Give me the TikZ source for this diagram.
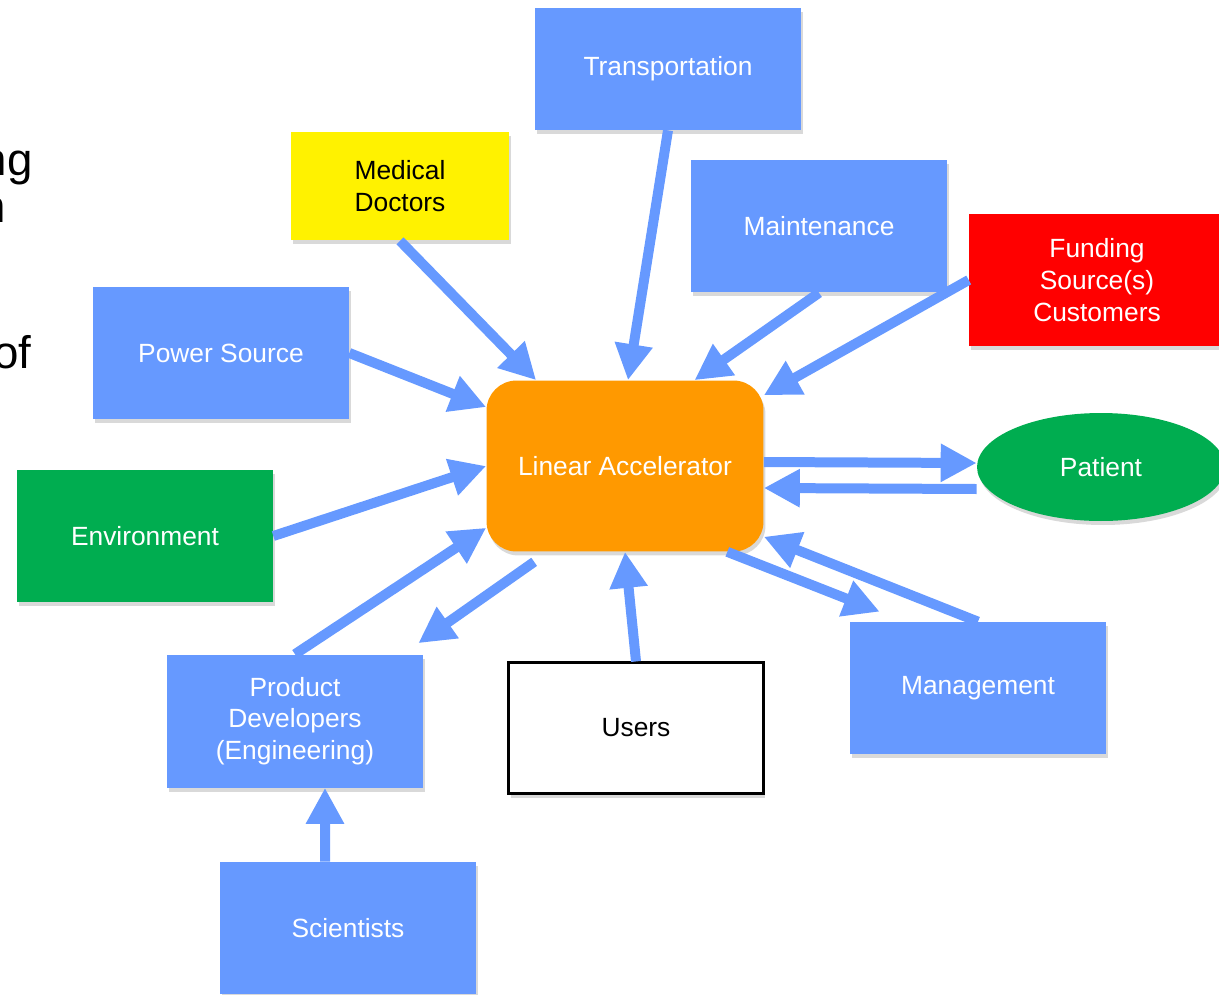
\documentclass[tikz,border=0pt]{standalone}
\usepackage{fontspec}
\setmainfont{Liberation Sans}
\usepackage{tikz}
\usetikzlibrary{arrows.meta}
\usetikzlibrary{shadows}
\usetikzlibrary{shapes.geometric}
\definecolor{boxblue}{RGB}{102,153,255}
\definecolor{linacorange}{RGB}{255,153,0}
\definecolor{envgreen}{RGB}{0,173,80}
\tikzset{unit/.style = {rectangle, fill = boxblue, text = white, align = center,
                        minimum width = 5.12cm, minimum height = 2.64cm, inner sep = 0pt,
                        font = \fontsize{15}{18}\selectfont,
                        drop shadow = {shadow xshift = 0.04cm, shadow yshift = -0.08cm,
                                       opacity = 0.3}},
         flow/.style = {draw = boxblue, line width = 0.2cm,
                        -{Triangle[length = 0.72cm, width = 0.72cm]}},
         cutoff/.style = {anchor = base east, inner sep = 0pt,
                          font = \fontsize{26}{27}\selectfont}}

\begin{document}
\begin{tikzpicture}[x = 0.02cm, y = -0.02cm]
      \useasboundingbox (0, 0) rectangle (1219, 994);
      \clip (0, 0) rectangle (1219, 994);

      % slide text cut off at the left edge
      \node [cutoff] (txtng) at (33, 175) {ng};
      \node [cutoff] (txtn) at (6, 222) {n};
      \node [cutoff] (txtof) at (32, 368) {of};

      \node [unit, minimum width = 5.34cm, minimum height = 2.44cm] (trans) at (668, 69) {Transportation};
      \node [unit, fill = yellow, text = black, minimum width = 4.36cm, minimum height = 2.18cm]
            (medic) at (400, 186) {Medical\\Doctors};
      \node [unit, minimum height = 2.66cm] (maint) at (819, 226) {Maintenance};
      \node [unit, fill = red] (fund) at (1097, 280) {Funding\\Source(s)\\Customers};
      \node [unit] (power) at (221, 353) {Power Source};
      \node [unit, fill = linacorange, rounded corners = 0.6cm, minimum width = 5.54cm,
             minimum height = 3.42cm] (linac) at (625, 466) {Linear Accelerator};
      \node [unit, ellipse, fill = envgreen, minimum width = 4.96cm, minimum height = 2.16cm]
            (patient) at (1101, 467) {Patient};
      \node [unit, fill = envgreen] (env) at (145, 536) {Environment};
      \node [unit, minimum height = 2.66cm] (prod) at (295, 721) {Product\\Developers\\(Engineering)};
      \node [unit, fill = white, text = black, draw = black, line width = 1.2pt,
             minimum width = 5.1cm, minimum height = 2.62cm] (users) at (636, 728) {Users};
      \node [unit] (mgmt) at (978, 688) {Management};
      \node [unit] (sci) at (348, 928) {Scientists};

      \draw [flow] (trans.south) -- (linac.88);
      \draw [flow] (medic.south) -- (linac.136);
      \draw [flow] (maint.south) -- (linac.51);
      \draw [flow] (fund.west) -- (linac.27);
      \draw [flow] (power.east) -- (linac.157);
      \draw [flow] (env.east) -- (linac.west);
      \draw [flow] (prod.north) -- (linac.204);
      \draw [flow] ([xshift = 0.96cm, yshift = -0.2cm]linac.south west)
                   -- ([xshift = -0.1cm, yshift = 0.22cm]prod.north east);
      \draw [flow] (users.north) -- (linac.south);
      \draw [flow] ([yshift = 0.08cm]linac.east) -- ([yshift = 0.08cm]patient.west);
      \draw [flow] ([yshift = -0.44cm]patient.west) -- ([yshift = -0.44cm]linac.east);
      \draw [flow] (linac.320) -- ([xshift = 0.6cm, yshift = 0.2cm]mgmt.north west);
      \draw [flow] (mgmt.north) -- (linac.333);
      \draw [flow] ([xshift = -0.46cm]sci.north) -- ([xshift = 0.6cm]prod.south);
    \end{tikzpicture}
\end{document}
